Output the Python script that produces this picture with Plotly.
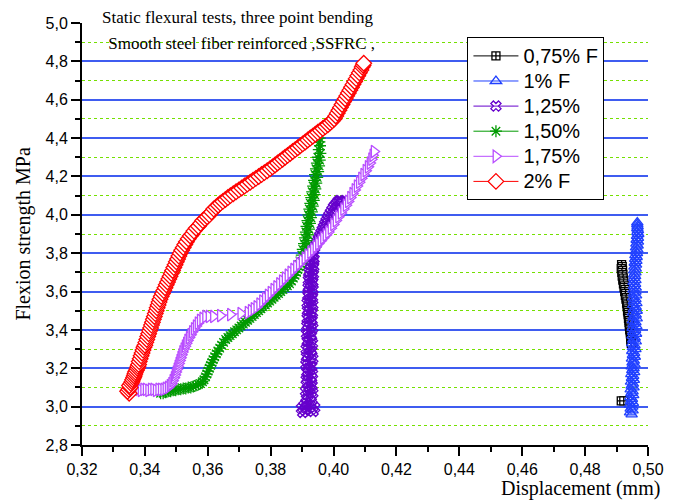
import plotly.graph_objects as go

# ---------------- data ----------------
# 0,75% F
x_075 = [0.4915, 0.4923, None,
         0.4916, 0.4918, 0.4915, 0.4919, 0.4917, 0.4920, 0.4918, 0.4921, 0.4920, 0.4923,
         0.4922, 0.4925, 0.4924, 0.4927, 0.4926, 0.4929, 0.4928, 0.4931, 0.4930, 0.4933,
         0.4932, 0.4934, 0.4934, 0.4936, 0.4935, 0.4937, 0.4937, 0.4939, 0.4938, 0.4940,
         0.4940, 0.4941, 0.4941, 0.4943, 0.4942, 0.4944, 0.4944, 0.4945, 0.4945, 0.4946,
         0.4946, 0.4947]
y_075 = [3.03, 3.03, None,
         3.74, 3.73, 3.72, 3.71, 3.70, 3.69, 3.68, 3.67, 3.66, 3.65,
         3.64, 3.63, 3.62, 3.61, 3.60, 3.59, 3.58, 3.57, 3.56, 3.55,
         3.54, 3.53, 3.52, 3.51, 3.50, 3.49, 3.48, 3.47, 3.46, 3.45,
         3.44, 3.43, 3.42, 3.41, 3.40, 3.39, 3.38, 3.37, 3.36, 3.35,
         3.34, 3.33]

# 1% F
y_1 = [2.96, 2.97, 2.98, 2.99, 3.00, 3.01, 3.02, 3.03, 3.04, 3.05, 3.06, 3.07, 3.08, 3.09,
       3.10, 3.11, 3.12, 3.13, 3.14, 3.15, 3.16, 3.17, 3.18, 3.19, 3.20, 3.21, 3.22, 3.23,
       3.24, 3.25, 3.26, 3.27, 3.28, 3.29, 3.30, 3.31, 3.32, 3.33, 3.34, 3.35, 3.36, 3.37,
       3.38, 3.39, 3.40, 3.41, 3.42, 3.43, 3.44, 3.45, 3.46, 3.47, 3.48, 3.49, 3.50, 3.51,
       3.52, 3.53, 3.54, 3.55, 3.56, 3.57, 3.58, 3.59, 3.60, 3.61, 3.62, 3.63, 3.64, 3.65,
       3.66, 3.67, 3.68, 3.69, 3.70, 3.71, 3.72, 3.73, 3.74, 3.75, 3.76, 3.77, 3.78, 3.79,
       3.80, 3.81, 3.82, 3.83, 3.84, 3.85, 3.86, 3.87, 3.88, 3.89, 3.90, 3.91, 3.92, 3.93,
       3.94, 3.95, 3.96]
x_1 = [0.4948, 0.4943, 0.4951, 0.4945, 0.4950, 0.4942, 0.4952, 0.4946, 0.4949, 0.4944,
       0.4953, 0.4947, 0.4951, 0.4945, 0.4954, 0.4948, 0.4952, 0.4946, 0.4955, 0.4949,
       0.4953, 0.4947, 0.4956, 0.4950, 0.4954, 0.4948, 0.4957, 0.4951, 0.4955, 0.4949,
       0.4958, 0.4952, 0.4956, 0.4950, 0.4960, 0.4952, 0.4957, 0.4950, 0.4961, 0.4953,
       0.4958, 0.4951, 0.4962, 0.4953, 0.4959, 0.4951, 0.4963, 0.4954, 0.4960, 0.4952,
       0.4964, 0.4954, 0.4961, 0.4952, 0.4964, 0.4955, 0.4961, 0.4953, 0.4963, 0.4955,
       0.4960, 0.4953, 0.4962, 0.4955, 0.4960, 0.4954, 0.4961, 0.4955, 0.4959, 0.4954,
       0.4960, 0.4955, 0.4959, 0.4956, 0.4960, 0.4956, 0.4961, 0.4957, 0.4962, 0.4958,
       0.4963, 0.4959, 0.4964, 0.4960, 0.4965, 0.4961, 0.4966, 0.4962, 0.4967, 0.4963,
       0.4968, 0.4964, 0.4968, 0.4965, 0.4969, 0.4966, 0.4968, 0.4966, 0.4967, 0.4966,
       0.4966]

# 1,25%
y_125 = [2.97, 2.975, 2.98, 2.985, 2.99, 2.995, 3.00, 3.005, 3.01, 3.02,
         3.03, 3.04, 3.05, 3.06, 3.07, 3.08, 3.09, 3.10, 3.11, 3.12, 3.13, 3.14, 3.15,
         3.16, 3.17, 3.18, 3.19, 3.20, 3.21, 3.22, 3.23, 3.24, 3.25, 3.26, 3.27, 3.28,
         3.29, 3.30, 3.31, 3.32, 3.33, 3.34, 3.35, 3.36, 3.37, 3.38, 3.39, 3.40, 3.41,
         3.42, 3.43, 3.44, 3.45, 3.46, 3.47, 3.48, 3.49, 3.50, 3.51, 3.52, 3.53, 3.54,
         3.55, 3.56, 3.57, 3.58, 3.59, 3.60, 3.61, 3.62, 3.63, 3.64, 3.65, 3.66, 3.67,
         3.68, 3.69, 3.70, 3.71, 3.72, 3.73, 3.74, 3.75, 3.76, 3.77, 3.78, 3.79, 3.80,
         3.815, 3.83, 3.845, 3.86, 3.875, 3.89, 3.905, 3.92, 3.935, 3.95, 3.965, 3.98,
         3.995, 4.01, 4.025, 4.04, 4.05, 4.06, 4.07, 4.075, 4.07, 4.065]
x_125 = [0.3902, 0.3935, 0.3910, 0.3928, 0.3898, 0.3940, 0.3915, 0.3906, 0.3932, 0.3912,
         0.3927, 0.3914, 0.3929, 0.3919, 0.3934, 0.3911, 0.3926, 0.3921, 0.3932, 0.3916,
         0.3928, 0.3913, 0.3930, 0.3918, 0.3933, 0.3915, 0.3925, 0.3920, 0.3931, 0.3912,
         0.3927, 0.3917, 0.3934, 0.3914, 0.3929, 0.3922, 0.3931, 0.3913, 0.3926, 0.3919,
         0.3933, 0.3916, 0.3928, 0.3921, 0.3930, 0.3914, 0.3927, 0.3918, 0.3934, 0.3915,
         0.3929, 0.3923, 0.3932, 0.3916, 0.3928, 0.3920, 0.3933, 0.3917, 0.3930, 0.3922,
         0.3934, 0.3916, 0.3929, 0.3924, 0.3933, 0.3918, 0.3931, 0.3921, 0.3935, 0.3919,
         0.3930, 0.3925, 0.3934, 0.3920, 0.3932, 0.3923, 0.3936, 0.3921, 0.3933, 0.3926,
         0.3937, 0.3924, 0.3935, 0.3928, 0.3938, 0.3927, 0.3936, 0.3932,
         0.3936, 0.3940, 0.3944, 0.3948, 0.3952, 0.3956, 0.3960, 0.3964, 0.3968, 0.3972,
         0.3976, 0.3980, 0.3985, 0.3990, 0.3995, 0.4000, 0.4005, 0.4010, 0.4015, 0.4019,
         0.4023, 0.4026]

# 1,50%
x_150 = [0.3450, 0.3458, 0.3466, 0.3474, 0.3482, 0.3490, 0.3498, 0.3506, 0.3514, 0.3522,
         0.3530, 0.3538, 0.3546, 0.3554, 0.3562, 0.3570, 0.3577, 0.3583, 0.3588, 0.3593,
         0.3597, 0.3601, 0.3605, 0.3609, 0.3613, 0.3617, 0.3622, 0.3627, 0.3632, 0.3638,
         0.3644, 0.3650, 0.3657, 0.3664, 0.3671, 0.3678, 0.3685, 0.3692, 0.3699, 0.3706,
         0.3713, 0.3720, 0.3727, 0.3734, 0.3741, 0.3748, 0.3755, 0.3762, 0.3769, 0.3776,
         0.3783, 0.3790, 0.3797, 0.3804, 0.3811, 0.3818, 0.3825, 0.3832, 0.3839, 0.3846,
         0.3853, 0.3860, 0.3866, 0.3872, 0.3877, 0.3882, 0.3886, 0.3890, 0.3895, 0.3893,
         0.3904, 0.3899, 0.3909, 0.3902, 0.3913, 0.3906, 0.3916, 0.3909, 0.3919, 0.3912,
         0.3922, 0.3914, 0.3925, 0.3917, 0.3928, 0.3920, 0.3931, 0.3923, 0.3934, 0.3926,
         0.3937, 0.3929, 0.3940, 0.3932, 0.3942, 0.3935, 0.3945, 0.3938, 0.3948, 0.3941,
         0.3951, 0.3944, 0.3954, 0.3947, 0.3956, 0.3950, 0.3958, 0.3953, 0.3957, 0.3955,
         0.3956]
y_150 = [3.07, 3.07, 3.075, 3.08, 3.08, 3.085, 3.085, 3.09, 3.09, 3.095,
         3.095, 3.10, 3.10, 3.105, 3.11, 3.115, 3.12, 3.13, 3.14, 3.155,
         3.17, 3.185, 3.20, 3.215, 3.23, 3.245, 3.26, 3.275, 3.29, 3.305,
         3.32, 3.335, 3.35, 3.36, 3.37, 3.38, 3.39, 3.40, 3.41, 3.42,
         3.43, 3.44, 3.45, 3.46, 3.47, 3.48, 3.49, 3.50, 3.51, 3.52,
         3.53, 3.54, 3.55, 3.56, 3.57, 3.58, 3.59, 3.60, 3.61, 3.62,
         3.63, 3.64, 3.655, 3.67, 3.685, 3.70, 3.715, 3.73, 3.745, 3.76,
         3.775, 3.79, 3.805, 3.82, 3.835, 3.85, 3.865, 3.88, 3.895, 3.91,
         3.925, 3.94, 3.955, 3.97, 3.985, 4.00, 4.015, 4.03, 4.045, 4.06,
         4.075, 4.09, 4.105, 4.12, 4.135, 4.15, 4.165, 4.18, 4.195, 4.21,
         4.225, 4.24, 4.255, 4.27, 4.285, 4.30, 4.32, 4.34, 4.36, 4.38,
         4.40]

# 1,75%
x_175 = [0.3380, 0.3388, 0.3396, 0.3404, 0.3412, 0.3420, 0.3428, 0.3436, 0.3444, 0.3452,
         0.3460, 0.3467, 0.3474, 0.3480, 0.3485, 0.3489, 0.3493, 0.3496, 0.3499, 0.3502,
         0.3505, 0.3508, 0.3511, 0.3514, 0.3517, 0.3520, 0.3524, 0.3528, 0.3532, 0.3536,
         0.3541, 0.3546, 0.3551, 0.3557, 0.3563, 0.3569, 0.3576, 0.3584, 0.3593, 0.3604,
         0.3618, 0.3640, 0.3672, 0.3705, 0.3728,
         0.3738, 0.3747, 0.3756, 0.3765, 0.3774, 0.3783, 0.3792, 0.3801, 0.3810, 0.3819,
         0.3828, 0.3837, 0.3846, 0.3855, 0.3864, 0.3873, 0.3882, 0.3891, 0.3900, 0.3909,
         0.3918, 0.3927, 0.3936, 0.3944, 0.3952, 0.3960, 0.3968, 0.3976, 0.3984, 0.3992,
         0.4000, 0.4008, 0.4016, 0.4024, 0.4032, 0.4040, 0.4047, 0.4054, 0.4061, 0.4068,
         0.4075, 0.4082, 0.4089, 0.4096, 0.4103, 0.4110, 0.4116, 0.4121, 0.4125, 0.4129]
y_175 = [3.09, 3.085, 3.09, 3.09, 3.085, 3.09, 3.09, 3.085, 3.09, 3.09,
         3.09, 3.095, 3.10, 3.11, 3.12, 3.135, 3.15, 3.165, 3.18, 3.195,
         3.21, 3.225, 3.24, 3.255, 3.27, 3.285, 3.30, 3.315, 3.33, 3.345,
         3.36, 3.375, 3.39, 3.405, 3.42, 3.435, 3.45, 3.46, 3.47, 3.47,
         3.47, 3.475, 3.48, 3.485, 3.49,
         3.50, 3.51, 3.52, 3.535, 3.55, 3.565, 3.58, 3.595, 3.61, 3.625,
         3.64, 3.655, 3.67, 3.685, 3.70, 3.715, 3.73, 3.745, 3.76, 3.775,
         3.79, 3.805, 3.82, 3.835, 3.85, 3.865, 3.88, 3.895, 3.91, 3.93,
         3.95, 3.97, 3.99, 4.01, 4.03, 4.05, 4.07, 4.09, 4.11, 4.13,
         4.15, 4.17, 4.19, 4.21, 4.23, 4.25, 4.27, 4.29, 4.31, 4.33]

# 2% F
x_2 = [0.3350, 0.3345, 0.3349, 0.3353, 0.3351, 0.3356, 0.3359, 0.3361, 0.3364, 0.3366,
       0.3368, 0.3370, 0.3373, 0.3376, 0.3378, 0.3380, 0.3382, 0.3385, 0.3388, 0.3391,
       0.3394, 0.3397, 0.3400, 0.3403, 0.3406, 0.3409, 0.3412, 0.3415, 0.3418, 0.3421,
       0.3424, 0.3427, 0.3430, 0.3433, 0.3436, 0.3439, 0.3442, 0.3445, 0.3448, 0.3452,
       0.3456, 0.3460, 0.3464, 0.3468, 0.3472, 0.3476, 0.3480, 0.3484, 0.3488, 0.3492,
       0.3496, 0.3500, 0.3504, 0.3508, 0.3512, 0.3517, 0.3522, 0.3527, 0.3532, 0.3538,
       0.3544, 0.3550, 0.3556, 0.3563, 0.3570, 0.3577, 0.3584, 0.3591, 0.3598, 0.3605,
       0.3612, 0.3619, 0.3626, 0.3633, 0.3640, 0.3648, 0.3656, 0.3664, 0.3672, 0.3681,
       0.3690, 0.3699, 0.3708, 0.3717, 0.3726, 0.3735, 0.3744, 0.3753, 0.3762, 0.3771,
       0.3780, 0.3789, 0.3798, 0.3806, 0.3814, 0.3822, 0.3830, 0.3838, 0.3846, 0.3854,
       0.3862, 0.3870, 0.3878, 0.3886, 0.3894, 0.3902, 0.3910, 0.3918, 0.3926, 0.3934,
       0.3942, 0.3950, 0.3958, 0.3966, 0.3974, 0.3982, 0.3989, 0.3996, 0.4002, 0.4007,
       0.4012, 0.4017, 0.4022, 0.4027, 0.4032, 0.4037, 0.4042, 0.4047, 0.4052, 0.4057,
       0.4062, 0.4067, 0.4072, 0.4077, 0.4082, 0.4087, 0.4091, 0.4094, 0.4096]
y_2 = [3.07, 3.08, 3.09, 3.10, 3.11, 3.12, 3.13, 3.14, 3.15, 3.16,
       3.17, 3.18, 3.19, 3.20, 3.21, 3.22, 3.235, 3.25, 3.265, 3.28,
       3.295, 3.31, 3.32, 3.335, 3.35, 3.365, 3.38, 3.395, 3.41, 3.425,
       3.44, 3.455, 3.47, 3.485, 3.50, 3.515, 3.53, 3.545, 3.56, 3.575,
       3.59, 3.605, 3.62, 3.635, 3.65, 3.665, 3.68, 3.695, 3.71, 3.725,
       3.74, 3.755, 3.77, 3.785, 3.80, 3.815, 3.83, 3.845, 3.86, 3.875,
       3.89, 3.90, 3.915, 3.93, 3.94, 3.955, 3.97, 3.98, 3.99, 4.00,
       4.015, 4.03, 4.04, 4.05, 4.06, 4.07, 4.08, 4.09, 4.10, 4.11,
       4.12, 4.13, 4.14, 4.15, 4.16, 4.17, 4.18, 4.19, 4.20, 4.21,
       4.22, 4.23, 4.24, 4.25, 4.26, 4.27, 4.28, 4.29, 4.30, 4.31,
       4.32, 4.33, 4.34, 4.35, 4.36, 4.37, 4.38, 4.39, 4.40, 4.41,
       4.42, 4.43, 4.44, 4.45, 4.46, 4.47, 4.48, 4.49, 4.50, 4.515,
       4.53, 4.545, 4.56, 4.575, 4.59, 4.605, 4.62, 4.635, 4.65, 4.665,
       4.68, 4.695, 4.71, 4.725, 4.74, 4.755, 4.77, 4.78, 4.79]

series_names = ["0,75% F", "1% F", "1,25%", "1,50%", "1,75%", "2% F"]

x_ticks = [0.32, 0.34, 0.36, 0.38, 0.40, 0.42, 0.44, 0.46, 0.48, 0.50]
y_ticks = [2.8, 3.0, 3.2, 3.4, 3.6, 3.8, 4.0, 4.2, 4.4, 4.6, 4.8, 5.0]

title_line1 = "Static flexural tests, three point bending"
title_line2 = " Smooth steel fiber reinforced ,SSFRC ,"
x_title = "Displacement (mm)"
y_title = "Flexion strength MPa"

# ---------------- figure ----------------
SANS = "Liberation Sans, Arial, sans-serif"
SERIF = "Liberation Serif, Times New Roman, serif"

styles = [
    dict(color="#000000", symbol="square-cross", size=8, fill="white"),
    dict(color="#2040ff", symbol="triangle-up-open", size=10, fill="#2040ff"),
    dict(color="#6600cc", symbol="x-open", size=9, fill="#6600cc"),
    dict(color="#009a00", symbol="asterisk-open", size=10, fill="#009a00"),
    dict(color="#b84dff", symbol="triangle-right", size=11, fill="white"),
    dict(color="#ff0000", symbol="diamond", size=12, fill="white"),
]
xs = [x_075, x_1, x_125, x_150, x_175, x_2]
ys = [y_075, y_1, y_125, y_150, y_175, y_2]

fig = go.Figure()
for name, x, y, st in zip(series_names, xs, ys, styles):
    fig.add_trace(go.Scatter(
        x=x, y=y, mode="lines+markers",
        name='<span style="font-size:20px">' + name + '</span>',
        line=dict(color=st["color"], width=1),
        marker=dict(symbol=st["symbol"], size=st["size"], color=st["fill"],
                    line=dict(color=st["color"], width=1.3)),
        connectgaps=False,
    ))

fig.update_layout(
    width=676, height=500,
    margin=dict(l=82, r=17, t=23, b=55),
    paper_bgcolor="white", plot_bgcolor="white",
    separators=", ",
    font=dict(family=SANS, size=16, color="black"),
    showlegend=True,
    legend=dict(
        x=0.681, y=0.966, xanchor="left", yanchor="top",
        bgcolor="white", bordercolor="black", borderwidth=1,
        font=dict(family=SANS, size=17, color="black"),
        itemwidth=45, tracegroupgap=0,
    ),
)

fig.update_xaxes(
    range=[0.32, 0.50], tickvals=x_ticks, tickformat=".2f",
    showline=True, linecolor="black", linewidth=2, mirror=False,
    ticks="outside", ticklen=9, tickwidth=1.5, tickcolor="black",
    showgrid=False, zeroline=False,
    tickfont=dict(family=SANS, size=16),
    minor=dict(dtick=0.01, tick0=0.32, ticks="outside", ticklen=5, tickwidth=1.5,
               tickcolor="black", showgrid=False),
)
fig.update_yaxes(
    range=[2.8, 5.0], tickvals=y_ticks, tickformat=".1f",
    showline=True, linecolor="black", linewidth=2, mirror=False,
    ticks="outside", ticklen=9, tickwidth=1.5, tickcolor="black",
    showgrid=True, gridcolor="#3f5cf0", gridwidth=1.6, zeroline=False,
    tickfont=dict(family=SANS, size=16),
    minor=dict(dtick=0.1, tick0=2.8, ticks="outside", ticklen=5, tickwidth=1.5,
               tickcolor="black", showgrid=True, gridcolor="#74e000",
               griddash="dot", gridwidth=1),
)

fig.add_annotation(text=title_line1, xref="paper", yref="paper", x=0.031, y=1.013,
                   xanchor="left", yanchor="middle", showarrow=False,
                   font=dict(family=SERIF, size=17, color="black"))
fig.add_annotation(text=title_line2, xref="paper", yref="paper", x=0.036, y=0.952,
                   xanchor="left", yanchor="middle", showarrow=False,
                   font=dict(family=SERIF, size=17, color="black"))
fig.add_annotation(text=x_title, xref="paper", yref="paper", x=1.024, y=-0.102,
                   xanchor="right", yanchor="middle", showarrow=False,
                   font=dict(family=SERIF, size=20, color="black"))
fig.add_annotation(text=y_title, xref="paper", yref="paper", x=-0.104, y=0.499,
                   xanchor="center", yanchor="middle", textangle=-90, showarrow=False,
                   font=dict(family=SERIF, size=20, color="black"))

fig.write_html("out.html")
